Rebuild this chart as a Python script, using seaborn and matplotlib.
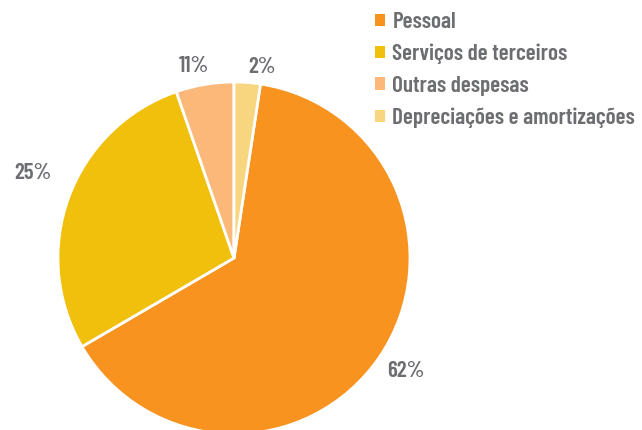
import matplotlib
matplotlib.use("Agg")
import matplotlib.pyplot as plt
import seaborn as sns
from matplotlib.patches import Patch

# --- DADOS ---
categorias = ["Pessoal", "Serviços de terceiros", "Outras despesas",
              "Depreciações e amortizações"]
valores = [64.0, 28.0, 5.3, 2.4]          # proporções
rotulos = ["62%", "25%", "11%", "2%"]     # rótulos impressos no original
cores = ["#F7931E", "#F0C00C", "#FBB878", "#F8D67F"]

sns.set_theme(style="white")
plt.rcParams["font.family"] = ["Barlow Condensed", "DejaVu Sans"]
cinza = "#6d6e71"

fig = plt.figure(figsize=(6.42, 4.30), dpi=100)
# eixo quadrado em pixels: centro (234, 172) e raio 176
ax = fig.add_axes([(234 - 176) / 642, (172 - 176) / 430, 352 / 642, 352 / 430])

inicio = 90 - valores[3] / sum(valores) * 360
wedges, textos = ax.pie(
    valores, labels=rotulos, colors=cores, startangle=inicio,
    counterclock=False, labeldistance=1.14,
    wedgeprops=dict(edgecolor="white", linewidth=2),
    textprops=dict(color=cinza, fontsize=16.5, fontweight=600),
)
# pequenos ajustes dos rótulos (em unidades do raio)
ajustes = [(0.034, 0.0), (-0.074, 0.09), (-0.04, -0.034), (0.074, -0.05)]
for t, (dx, dy) in zip(textos, ajustes):
    x, y = t.get_position()
    t.set_position((x + dx, y + dy))
    t.set_horizontalalignment("center")
    t.set_verticalalignment("center")
ax.set_xlim(-1, 1)
ax.set_ylim(-1, 1)
ax.axis("off")

handles = [Patch(facecolor=c, edgecolor="none") for c in cores]
fig.legend(handles, categorias, loc="upper left", bbox_to_anchor=(354 / 642, 1.02),
           frameon=False, handlelength=0.45, handleheight=0.45,
           handletextpad=0.3, labelspacing=0.5,
           prop=dict(size=16.7, weight=600), labelcolor=cinza)

fig.savefig("out.png", dpi=100)
